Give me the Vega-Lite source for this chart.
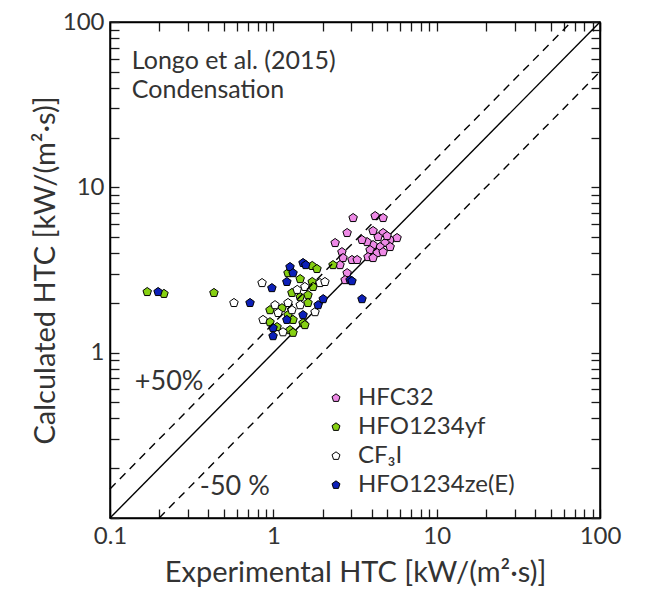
{
  "$schema": "https://vega.github.io/schema/vega-lite/v6.json",
  "width": 490,
  "height": 496,
  "autosize": {"type": "none"},
  "padding": {"left": 110, "top": 22, "right": 49, "bottom": 78},
  "background": "white",
  "config": {
    "view": {"stroke": "black", "strokeWidth": 1.5},
    "font": "Lato",
    "axis": {
      "domainColor": "black",
      "domainWidth": 1.5,
      "tickColor": "#1a1a1a",
      "tickWidth": 1.3,
      "zindex": 1,
      "grid": false,
      "labelFont": "Lato",
      "labelFontSize": 24,
      "labelColor": "#333333",
      "titleFont": "Lato",
      "titleFontSize": 29,
      "titleFontWeight": "normal",
      "titleColor": "#333333"
    }
  },
  "datasets": {
    "pts": [
      {"exp": 3.08, "calc": 6.53, "fluid": "HFC32"},
      {"exp": 4.20, "calc": 6.71, "fluid": "HFC32"},
      {"exp": 4.70, "calc": 6.53, "fluid": "HFC32"},
      {"exp": 2.83, "calc": 5.30, "fluid": "HFC32"},
      {"exp": 4.08, "calc": 5.45, "fluid": "HFC32"},
      {"exp": 4.70, "calc": 5.30, "fluid": "HFC32"},
      {"exp": 4.38, "calc": 5.01, "fluid": "HFC32"},
      {"exp": 5.19, "calc": 4.81, "fluid": "HFC32"},
      {"exp": 5.72, "calc": 4.94, "fluid": "HFC32"},
      {"exp": 4.83, "calc": 4.61, "fluid": "HFC32"},
      {"exp": 4.50, "calc": 4.36, "fluid": "HFC32"},
      {"exp": 4.08, "calc": 4.48, "fluid": "HFC32"},
      {"exp": 3.91, "calc": 4.18, "fluid": "HFC32"},
      {"exp": 4.32, "calc": 4.01, "fluid": "HFC32"},
      {"exp": 4.70, "calc": 4.06, "fluid": "HFC32"},
      {"exp": 3.75, "calc": 4.67, "fluid": "HFC32"},
      {"exp": 5.19, "calc": 4.36, "fluid": "HFC32"},
      {"exp": 2.39, "calc": 4.61, "fluid": "HFC32"},
      {"exp": 3.80, "calc": 3.79, "fluid": "HFC32"},
      {"exp": 4.08, "calc": 3.74, "fluid": "HFC32"},
      {"exp": 2.63, "calc": 4.06, "fluid": "HFC32"},
      {"exp": 2.67, "calc": 3.74, "fluid": "HFC32"},
      {"exp": 3.03, "calc": 3.64, "fluid": "HFC32"},
      {"exp": 3.26, "calc": 3.64, "fluid": "HFC32"},
      {"exp": 2.56, "calc": 3.39, "fluid": "HFC32"},
      {"exp": 2.83, "calc": 3.03, "fluid": "HFC32"},
      {"exp": 2.75, "calc": 2.75, "fluid": "HFC32"},
      {"exp": 3.49, "calc": 4.81, "fluid": "HFC32"},
      {"exp": 4.97, "calc": 5.08, "fluid": "HFC32"},
      {"exp": 0.169, "calc": 2.33, "fluid": "HFO1234yf"},
      {"exp": 0.214, "calc": 2.27, "fluid": "HFO1234yf"},
      {"exp": 0.433, "calc": 2.30, "fluid": "HFO1234yf"},
      {"exp": 1.73, "calc": 3.35, "fluid": "HFO1234yf"},
      {"exp": 1.85, "calc": 3.21, "fluid": "HFO1234yf"},
      {"exp": 1.23, "calc": 3.03, "fluid": "HFO1234yf"},
      {"exp": 1.46, "calc": 2.79, "fluid": "HFO1234yf"},
      {"exp": 1.73, "calc": 2.68, "fluid": "HFO1234yf"},
      {"exp": 1.75, "calc": 2.50, "fluid": "HFO1234yf"},
      {"exp": 1.30, "calc": 2.30, "fluid": "HFO1234yf"},
      {"exp": 1.46, "calc": 2.17, "fluid": "HFO1234yf"},
      {"exp": 1.63, "calc": 2.23, "fluid": "HFO1234yf"},
      {"exp": 1.63, "calc": 2.00, "fluid": "HFO1234yf"},
      {"exp": 0.954, "calc": 1.81, "fluid": "HFO1234yf"},
      {"exp": 1.13, "calc": 1.86, "fluid": "HFO1234yf"},
      {"exp": 1.23, "calc": 1.69, "fluid": "HFO1234yf"},
      {"exp": 1.32, "calc": 1.58, "fluid": "HFO1234yf"},
      {"exp": 0.954, "calc": 1.53, "fluid": "HFO1234yf"},
      {"exp": 1.054, "calc": 1.43, "fluid": "HFO1234yf"},
      {"exp": 1.52, "calc": 1.51, "fluid": "HFO1234yf"},
      {"exp": 1.265, "calc": 1.37, "fluid": "HFO1234yf"},
      {"exp": 1.56, "calc": 1.47, "fluid": "HFO1234yf"},
      {"exp": 2.32, "calc": 3.39, "fluid": "HFO1234yf"},
      {"exp": 1.32, "calc": 1.32, "fluid": "HFO1234yf"},
      {"exp": 0.574, "calc": 2.00, "fluid": "CF₃I"},
      {"exp": 0.853, "calc": 2.64, "fluid": "CF₃I"},
      {"exp": 1.93, "calc": 2.64, "fluid": "CF₃I"},
      {"exp": 1.56, "calc": 2.50, "fluid": "CF₃I"},
      {"exp": 1.40, "calc": 2.40, "fluid": "CF₃I"},
      {"exp": 1.23, "calc": 2.00, "fluid": "CF₃I"},
      {"exp": 1.46, "calc": 1.94, "fluid": "CF₃I"},
      {"exp": 1.07, "calc": 1.74, "fluid": "CF₃I"},
      {"exp": 1.30, "calc": 1.81, "fluid": "CF₃I"},
      {"exp": 1.80, "calc": 1.76, "fluid": "CF₃I"},
      {"exp": 0.865, "calc": 1.58, "fluid": "CF₃I"},
      {"exp": 1.146, "calc": 1.33, "fluid": "CF₃I"},
      {"exp": 2.07, "calc": 2.68, "fluid": "CF₃I"},
      {"exp": 1.024, "calc": 1.94, "fluid": "CF₃I"},
      {"exp": 0.197, "calc": 2.33, "fluid": "HFO1234ze(E)"},
      {"exp": 0.72, "calc": 2.00, "fluid": "HFO1234ze(E)"},
      {"exp": 1.52, "calc": 3.49, "fluid": "HFO1234ze(E)"},
      {"exp": 1.58, "calc": 3.39, "fluid": "HFO1234ze(E)"},
      {"exp": 1.265, "calc": 3.30, "fluid": "HFO1234ze(E)"},
      {"exp": 1.32, "calc": 3.03, "fluid": "HFO1234ze(E)"},
      {"exp": 1.21, "calc": 2.68, "fluid": "HFO1234ze(E)"},
      {"exp": 0.98, "calc": 2.46, "fluid": "HFO1234ze(E)"},
      {"exp": 2.02, "calc": 2.11, "fluid": "HFO1234ze(E)"},
      {"exp": 1.88, "calc": 1.94, "fluid": "HFO1234ze(E)"},
      {"exp": 1.52, "calc": 1.69, "fluid": "HFO1234ze(E)"},
      {"exp": 1.21, "calc": 1.58, "fluid": "HFO1234ze(E)"},
      {"exp": 0.996, "calc": 1.41, "fluid": "HFO1234ze(E)"},
      {"exp": 0.996, "calc": 1.26, "fluid": "HFO1234ze(E)"},
      {"exp": 2.95, "calc": 2.75, "fluid": "HFO1234ze(E)"},
      {"exp": 3.03, "calc": 2.71, "fluid": "HFO1234ze(E)"},
      {"exp": 3.49, "calc": 2.11, "fluid": "HFO1234ze(E)"}
    ],
    "lines": [
      {"exp": 0.1, "calc": 0.1, "series": "y=x"},
      {"exp": 100, "calc": 100, "series": "y=x"},
      {"exp": 0.1, "calc": 0.15, "series": "+50%"},
      {"exp": 66.67, "calc": 100, "series": "+50%"},
      {"exp": 0.2, "calc": 0.1, "series": "-50%"},
      {"exp": 100, "calc": 50, "series": "-50%"}
    ],
    "notes": [
      {"exp": 0.136, "calc": 58.2, "text": "Longo et al. (2015)", "group": "head"},
      {"exp": 0.136, "calc": 38.8, "text": "Condensation", "group": "head"},
      {"exp": 0.142, "calc": 0.665, "text": "+50%", "group": "band"},
      {"exp": 0.355, "calc": 0.154, "text": "-50 %", "group": "band"}
    ]
  },
  "layer": [
    {
      "data": {"name": "lines"},
      "transform": [{"filter": "datum.series === 'y=x'"}],
      "mark": {"type": "line", "color": "black", "strokeWidth": 1.4},
      "encoding": {
        "x": {
          "field": "exp", "type": "quantitative",
          "scale": {"type": "log", "domain": [0.1, 100], "nice": false},
          "axis": {
            "orient": "bottom",
            "title": "Experimental HTC [kW/(m²·s)]",
            "values": [0.1,0.2,0.3,0.4,0.5,0.6,0.7,0.8,0.9,1,2,3,4,5,6,7,8,9,10,20,30,40,50,60,70,80,90,100],
            "labelExpr": "indexof([0.1,1,10,100], datum.value) >= 0 ? datum.value + '' : ''",
            "tickSize": -9,
            "labelPadding": 15,
            "labelFlush": false,
            "titlePadding": 10
          }
        },
        "y": {
          "field": "calc", "type": "quantitative",
          "scale": {"type": "log", "domain": [0.1, 100], "nice": false},
          "axis": {
            "orient": "left",
            "title": "Calculated HTC [kW/(m²·s)]",
            "values": [0.1,0.2,0.3,0.4,0.5,0.6,0.7,0.8,0.9,1,2,3,4,5,6,7,8,9,10,20,30,40,50,60,70,80,90,100],
            "labelExpr": "indexof([1,10,100], datum.value) >= 0 ? datum.value + '' : ''",
            "tickSize": -9,
            "labelPadding": 15,
            "titlePadding": 2
          }
        },
        "detail": {"field": "series"}
      }
    },
    {
      "data": {"name": "pts"},
      "mark": {
        "type": "point", "filled": true, "opacity": 1,
        "shape": "M0,-1L0.95,-0.31L0.59,0.81L-0.59,0.81L-0.95,-0.31Z",
        "size": 80, "stroke": "black", "strokeWidth": 1
      },
      "encoding": {
        "x": {
          "field": "exp", "type": "quantitative",
          "scale": {"type": "log", "domain": [0.1, 100], "nice": false},
          "axis": {
            "orient": "top", "title": null, "labels": false,
            "values": [0.1,0.2,0.3,0.4,0.5,0.6,0.7,0.8,0.9,1,2,3,4,5,6,7,8,9,10,20,30,40,50,60,70,80,90,100],
            "tickSize": -9
          }
        },
        "y": {
          "field": "calc", "type": "quantitative",
          "scale": {"type": "log", "domain": [0.1, 100], "nice": false},
          "axis": {
            "orient": "right", "title": null, "labels": false,
            "values": [0.1,0.2,0.3,0.4,0.5,0.6,0.7,0.8,0.9,1,2,3,4,5,6,7,8,9,10,20,30,40,50,60,70,80,90,100],
            "tickSize": -9
          }
        },
        "fill": {
          "field": "fluid", "type": "nominal",
          "sort": ["HFC32", "HFO1234yf", "CF₃I", "HFO1234ze(E)"],
          "scale": {"domain": ["HFC32", "HFO1234yf", "CF₃I", "HFO1234ze(E)"], "range": ["#ee8ae6", "#86d012", "#ffffff", "#0c1fb8"]},
          "legend": {
            "orient": "none", "legendX": 214, "legendY": 364,
            "title": null,
            "labelFont": "Lato", "labelFontSize": 24, "labelColor": "#333333",
            "symbolType": "M0,-1L0.95,-0.31L0.59,0.81L-0.59,0.81L-0.95,-0.31Z",
            "symbolSize": 70, "symbolStrokeColor": "black", "symbolStrokeWidth": 1, "symbolOpacity": 1,
            "rowPadding": 5, "labelOffset": 10
          }
        }
      }
    },
    {
      "data": {"name": "lines"},
      "transform": [{"filter": "datum.series !== 'y=x'"}],
      "mark": {"type": "line", "color": "black", "strokeWidth": 1.4, "strokeDash": [8, 6]},
      "encoding": {
        "x": {"field": "exp", "type": "quantitative", "scale": {"type": "log", "domain": [0.1, 100], "nice": false}, "axis": null},
        "y": {"field": "calc", "type": "quantitative", "scale": {"type": "log", "domain": [0.1, 100], "nice": false}, "axis": null},
        "detail": {"field": "series"}
      }
    },
    {
      "data": {"name": "notes"},
      "transform": [{"filter": "datum.group === 'head'"}],
      "mark": {"type": "text", "align": "left", "baseline": "middle", "font": "Lato", "fontSize": 25, "color": "#333333"},
      "encoding": {
        "x": {"field": "exp", "type": "quantitative", "scale": {"type": "log", "domain": [0.1, 100], "nice": false}, "axis": null},
        "y": {"field": "calc", "type": "quantitative", "scale": {"type": "log", "domain": [0.1, 100], "nice": false}, "axis": null},
        "text": {"field": "text"}
      }
    },
    {
      "data": {"name": "notes"},
      "transform": [{"filter": "datum.group === 'band'"}],
      "mark": {"type": "text", "align": "left", "baseline": "middle", "font": "Lato", "fontSize": 27, "color": "#333333"},
      "encoding": {
        "x": {"field": "exp", "type": "quantitative", "scale": {"type": "log", "domain": [0.1, 100], "nice": false}, "axis": null},
        "y": {"field": "calc", "type": "quantitative", "scale": {"type": "log", "domain": [0.1, 100], "nice": false}, "axis": null},
        "text": {"field": "text"}
      }
    }
  ]
}
